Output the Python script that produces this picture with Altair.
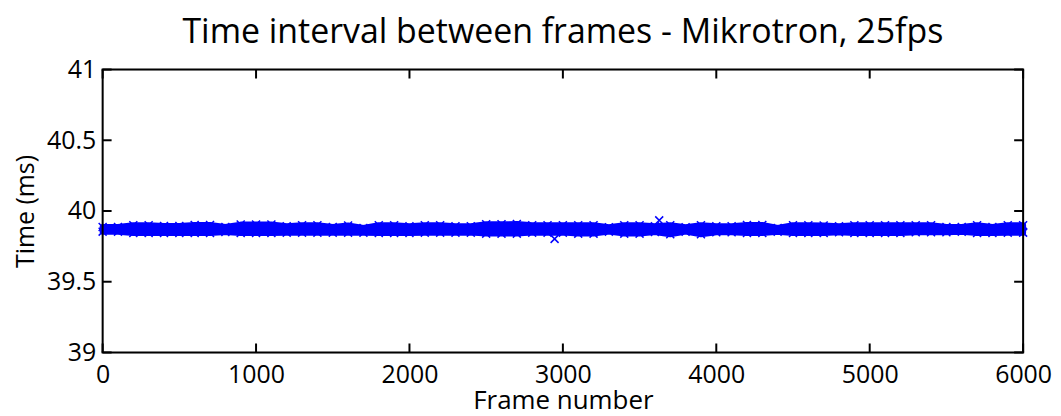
import altair as alt
import pandas as pd

# Frame positions (every 100 frames) and band envelope (ms)
frames = list(range(0, 6001, 100))
upper = [39.887, 39.887, 39.899, 39.899, 39.894, 39.894, 39.901, 39.901, 39.887, 39.904,
         39.904, 39.904, 39.892, 39.899, 39.899, 39.887, 39.897, 39.880, 39.899, 39.899,
         39.892, 39.899, 39.899, 39.892, 39.892, 39.906, 39.906, 39.908, 39.899, 39.899,
         39.899, 39.899, 39.899, 39.885, 39.899, 39.899, 39.892, 39.899, 39.885, 39.899,
         39.892, 39.892, 39.901, 39.901, 39.880, 39.899, 39.899, 39.897, 39.892, 39.899,
         39.899, 39.899, 39.899, 39.899, 39.899, 39.887, 39.887, 39.899, 39.887, 39.899,
         39.899]
lower = [39.854, 39.854, 39.845, 39.845, 39.845, 39.845, 39.845, 39.845, 39.852, 39.845,
         39.845, 39.845, 39.847, 39.847, 39.847, 39.847, 39.847, 39.847, 39.845, 39.845,
         39.845, 39.847, 39.847, 39.847, 39.847, 39.840, 39.840, 39.840, 39.847, 39.847,
         39.847, 39.840, 39.840, 39.854, 39.840, 39.840, 39.852, 39.836, 39.854, 39.836,
         39.850, 39.850, 39.845, 39.845, 39.854, 39.845, 39.845, 39.845, 39.850, 39.845,
         39.845, 39.845, 39.845, 39.850, 39.850, 39.850, 39.854, 39.845, 39.845, 39.847,
         39.847]
outlier_frames = [2946, 3628]
outlier_values = [39.803, 39.934]

x_ticks = [0, 1000, 2000, 3000, 4000, 5000, 6000]
y_ticks = [39, 39.5, 40, 40.5, 41]

W, H = 924, 284
BLUE = "#0000ff"
FONT = "Open Sans"
XSHAPE = "M-1,-1L1,1M-1,1L1,-1"

band = pd.DataFrame({"frame": frames, "upper": upper, "lower": lower})
pts = pd.DataFrame({
    "frame": frames + frames + outlier_frames,
    "value": upper + lower + outlier_values,
})

xs = alt.Scale(domain=[0, 6000], nice=False)
ys = alt.Scale(domain=[39, 41], nice=False, zero=False)

xaxis = alt.Axis(values=x_ticks, ticks=False, grid=False, domain=False, format="d",
                 labelFont=FONT, labelFontSize=25, labelColor="black",
                 labelPadding=10, title="Frame number", titleFont=FONT,
                 titleFontSize=26, titleFontWeight="normal", titleColor="black",
                 titlePadding=0, labelFlush=False)
yaxis = alt.Axis(values=y_ticks, ticks=False, grid=False, domain=False, format="~g",
                 labelFont=FONT, labelFontSize=25, labelColor="black",
                 labelPadding=7, title="Time (ms)", titleFont=FONT,
                 titleFontSize=25, titleFontWeight="normal", titleColor="black",
                 titlePadding=8)

area = alt.Chart(band).mark_area(color=BLUE, opacity=1, stroke=BLUE,
                                 strokeWidth=6, strokeJoin="round").encode(
    x=alt.X("frame:Q", scale=xs, axis=xaxis),
    y=alt.Y("upper:Q", scale=ys, axis=yaxis),
    y2="lower:Q",
)

marks = alt.Chart(pts).mark_point(shape=XSHAPE, filled=False, color=BLUE,
                                  strokeWidth=1.5, size=64, opacity=1).encode(
    x=alt.X("frame:Q", scale=xs),
    y=alt.Y("value:Q", scale=ys),
)

TL = 9
LW = 2
ydf = pd.DataFrame({"t": y_ticks})
xdf = pd.DataFrame({"t": x_ticks})
left_ticks = alt.Chart(ydf).mark_rule(color="black", strokeWidth=LW).encode(
    y=alt.Y("t:Q", scale=ys), x=alt.value(0), x2=alt.value(TL))
right_ticks = alt.Chart(ydf).mark_rule(color="black", strokeWidth=LW).encode(
    y=alt.Y("t:Q", scale=ys), x=alt.value(W - TL), x2=alt.value(W))
bottom_ticks = alt.Chart(xdf).mark_rule(color="black", strokeWidth=LW).encode(
    x=alt.X("t:Q", scale=xs), y=alt.value(H), y2=alt.value(H - TL))
top_ticks = alt.Chart(xdf).mark_rule(color="black", strokeWidth=LW).encode(
    x=alt.X("t:Q", scale=xs), y=alt.value(0), y2=alt.value(TL))

box_df = pd.DataFrame({"side": ["l"]})
box_left = alt.Chart(box_df).mark_rule(color="black", strokeWidth=LW).encode(
    x=alt.value(0), y=alt.value(0), y2=alt.value(H))
box_right = alt.Chart(box_df).mark_rule(color="black", strokeWidth=LW).encode(
    x=alt.value(W), y=alt.value(0), y2=alt.value(H))
box_top = alt.Chart(box_df).mark_rule(color="black", strokeWidth=LW).encode(
    y=alt.value(0), x=alt.value(-1), x2=alt.value(W + 1))
box_bottom = alt.Chart(box_df).mark_rule(color="black", strokeWidth=LW).encode(
    y=alt.value(H), x=alt.value(-1), x2=alt.value(W + 1))

chart = alt.layer(area, marks, left_ticks, right_ticks, bottom_ticks, top_ticks,
                  box_left, box_right, box_top, box_bottom).properties(
    width=W, height=H,
    title=alt.Title("Time interval between frames - Mikrotron, 25fps",
                    font=FONT, fontSize=34, fontWeight="normal", color="black",
                    anchor="middle", offset=8),
    autosize=alt.AutoSizeParams(type="none"),
    padding={"left": 95, "top": 61, "right": 30, "bottom": 60},
).configure_view(stroke=None).configure(background="white")

chart.save("out.html", embed_options={"renderer": "svg", "actions": False})
